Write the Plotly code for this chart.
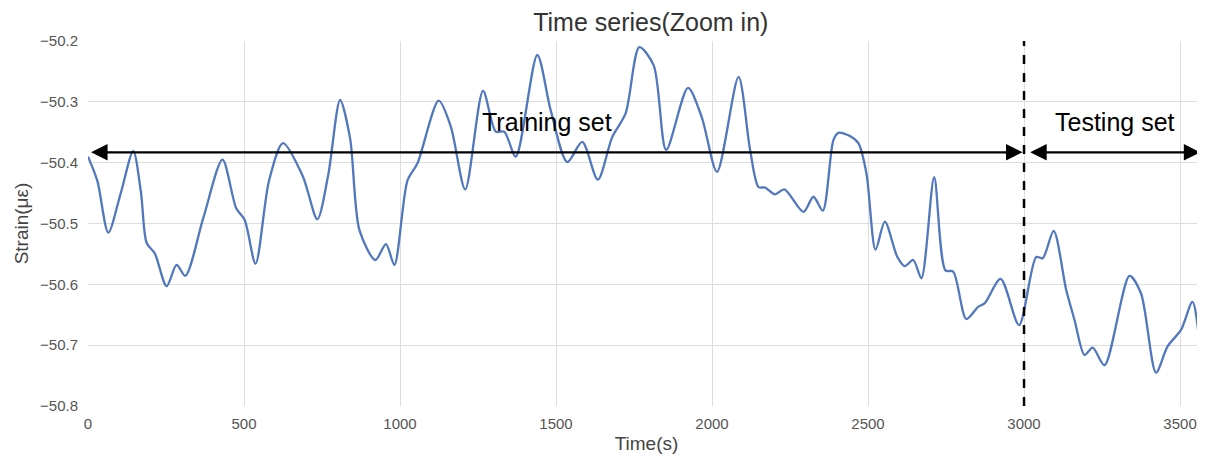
import plotly.graph_objects as go

time_s = [0, 30, 65, 105, 145, 170, 188, 214, 252, 284, 312, 370, 431, 475, 502, 537, 580, 625,
          689, 735, 770, 808, 840, 870, 921, 955, 982, 1024, 1056, 1124, 1163, 1209, 1266, 1307,
          1334, 1371, 1440, 1483, 1536, 1584, 1634, 1680, 1723, 1767, 1813, 1853, 1923, 1967,
          2016, 2085, 2122, 2149, 2170, 2202, 2232, 2293, 2325, 2355, 2389, 2405, 2442, 2469,
          2495, 2524, 2554, 2594, 2618, 2645, 2671, 2712, 2748, 2773, 2815, 2853, 2874, 2925,
          2984, 3039, 3060, 3095, 3135, 3162, 3194, 3220, 3258, 3338, 3375, 3423, 3460, 3503,
          3540, 3572, 3590]
strain = [-50.390, -50.43, -50.515, -50.45, -50.381, -50.45, -50.532, -50.549, -50.603, -50.568,
          -50.586, -50.49, -50.395, -50.475, -50.494, -50.566, -50.43, -50.368, -50.423, -50.493,
          -50.42, -50.297, -50.36, -50.511, -50.56, -50.534, -50.568, -50.429, -50.401, -50.298,
          -50.341, -50.444, -50.282, -50.349, -50.349, -50.39, -50.223, -50.314, -50.399, -50.366,
          -50.428, -50.358, -50.319, -50.210, -50.240, -50.379, -50.277, -50.325, -50.415, -50.259,
          -50.379, -50.440, -50.441, -50.452, -50.444, -50.481, -50.456, -50.479, -50.363, -50.351,
          -50.356, -50.368, -50.418, -50.543, -50.497, -50.555, -50.570, -50.560, -50.590, -50.424,
          -50.577, -50.579, -50.657, -50.637, -50.631, -50.591, -50.667, -50.555, -50.557, -50.512,
          -50.609, -50.659, -50.716, -50.704, -50.733, -50.586, -50.615, -50.745, -50.702, -50.675,
          -50.629, -50.735, -50.78]

split_t = 3000
x_max = 3580
arrow_y = -50.383
x_ticks = [0, 500, 1000, 1500, 2000, 2500, 3000, 3500]
y_ticks = [-50.8, -50.7, -50.6, -50.5, -50.4, -50.3, -50.2]

fig = go.Figure()
fig.add_trace(go.Scatter(x=time_s, y=strain, mode="lines",
                         line=dict(color="#5177BD", width=2.3, shape="spline", smoothing=0.8),
                         showlegend=False))

fig.add_shape(type="line", x0=split_t, x1=split_t, y0=0, y1=1, xref="x", yref="paper",
              line=dict(color="black", width=2.5, dash="dash"))

arrow_common = dict(xref="x", yref="y", axref="x", ayref="y", showarrow=True, text="",
                    arrowhead=2, startarrowhead=2, arrowside="end+start",
                    arrowsize=1.5, startarrowsize=1.5, arrowwidth=2.2, arrowcolor="black")
fig.add_annotation(x=split_t - 5, y=arrow_y, ax=5, ay=arrow_y, **arrow_common)
fig.add_annotation(x=x_max - 15, y=arrow_y, ax=split_t + 15, ay=arrow_y, **arrow_common)

fig.add_annotation(x=1471, y=-50.333, text="Training set", showarrow=False,
                   font=dict(family="Arial", size=25, color="black"))
fig.add_annotation(x=3291, y=-50.333, text="Testing set", showarrow=False,
                   font=dict(family="Arial", size=25, color="black"))

# page body has an 8px default margin, so the figure is sized to fill the rest of the window
fig.update_layout(
    width=1197, height=450,
    margin=dict(l=80, r=0, t=33, b=52, autoexpand=False),
    paper_bgcolor="white", plot_bgcolor="white",
    title=dict(text="Time series(Zoom in)", x=0.537, xanchor="center", y=0.968, yanchor="middle",
               font=dict(family="Arial", size=25, color="#333333")),
    font=dict(family="Arial", color="#555555"),
)
fig.update_xaxes(range=[0, x_max], tickvals=x_ticks, showgrid=True, gridcolor="#DDDDDD",
                 gridwidth=1, zeroline=False, showline=False, automargin=False,
                 ticks="outside", ticklen=4, tickcolor="rgba(0,0,0,0)",
                 tickfont=dict(size=15, color="#555555"),
                 title=dict(text="Time(s)", font=dict(size=19, color="#444444"), standoff=5))
fig.update_yaxes(range=[-50.8, -50.2], tickvals=y_ticks, tickformat=".1f", showgrid=True,
                 gridcolor="#DDDDDD", gridwidth=1, zeroline=False, showline=False, automargin=False,
                 ticks="outside", ticklen=6, tickcolor="rgba(0,0,0,0)",
                 tickfont=dict(size=15, color="#555555"),
                 title=dict(text="Strain(με)", font=dict(size=19, color="#444444"), standoff=6))

fig.write_html("out.html")
